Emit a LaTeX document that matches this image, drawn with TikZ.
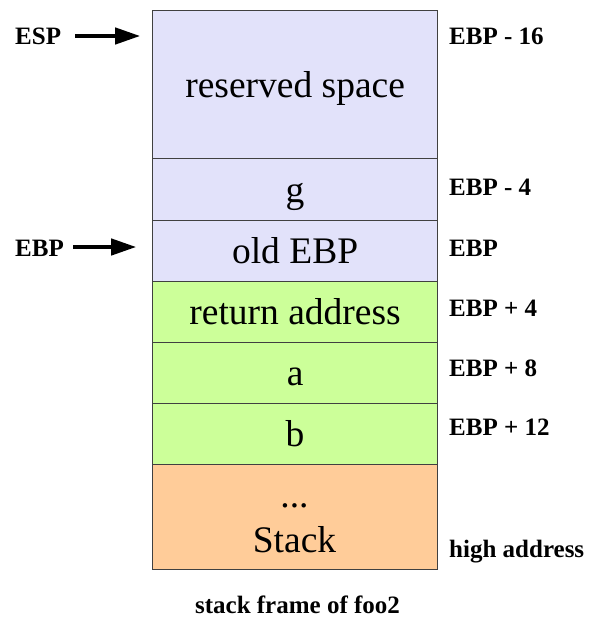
\documentclass[tikz,border=0pt]{standalone}
\usepackage{fontspec}
\setmainfont{Liberation Serif}
\usetikzlibrary{arrows.meta}
\definecolor{lav}{RGB}{226,226,250}
\definecolor{grn}{RGB}{204,255,153}
\definecolor{org}{RGB}{255,204,153}
\definecolor{edge}{RGB}{64,64,64}
\tikzset{
  cell/.style={draw=edge, line width=1.2pt, rectangle, anchor=north west, inner sep=0pt,
    minimum width=285pt, font=\fontsize{37.5}{45}\selectfont, text height=33.4pt, text depth=8.1pt},
  celltext/.style={font=\fontsize{37.5}{45}\selectfont, inner sep=0pt, anchor=base},
  lbl/.style={font=\fontsize{25}{30}\selectfont\bfseries, inner sep=0pt, anchor=base west},
  arr/.style={line width=3.2pt, -{Triangle[length=25pt,width=16.5pt]}}
}
\begin{document}
\begin{tikzpicture}[x=1pt,y=-1pt]
\useasboundingbox (0,0) rectangle (589,618);
\node[cell, fill=lav, minimum height=148pt] (res) at (152,10) {reserved space};
\node[cell, fill=lav, minimum height=62pt] (g) at (152,158) {g};
\node[cell, fill=lav, minimum height=61pt] (oldebp) at (152,220) {old EBP};
\node[cell, fill=grn, minimum height=61pt] (ret) at (152,281) {return address};
\node[cell, fill=grn, minimum height=61pt] (a) at (152,342) {a};
\node[cell, fill=grn, minimum height=61pt] (b) at (152,403) {b};
\node[cell, fill=org, minimum height=105pt] (stk) at (152,464) {};
\node[celltext] (dots) at (294.5,507) {...};
\node[celltext] (stacktxt) at (294.5,552) {Stack};

\node[lbl] (l16) at (449,45) {EBP - 16};
\node[lbl] (l4) at (449,195) {EBP - 4};
\node[lbl] (l0) at (449,256) {EBP};
\node[lbl] (p4) at (449,316) {EBP + 4};
\node[lbl] (p8) at (449,376) {EBP + 8};
\node[lbl] (p12) at (449,435) {EBP + 12};
\node[lbl] (high) at (449,557) {high address};

\node[lbl] (esp) at (15,45) {ESP};
\node[lbl] (ebp) at (15,256) {EBP};
\coordinate (esptip) at (140,36);
\coordinate (ebptip) at (136,247);
\draw[arr] ([xshift=14pt]esp.east |- esptip) -- (esptip);
\draw[arr] ([xshift=9pt]ebp.east |- ebptip) -- (ebptip);

\node[font=\fontsize{25}{30}\selectfont\bfseries, inner sep=0pt, anchor=base] (cap) at (297.5,613) {stack frame of foo2};
\end{tikzpicture}
\end{document}
